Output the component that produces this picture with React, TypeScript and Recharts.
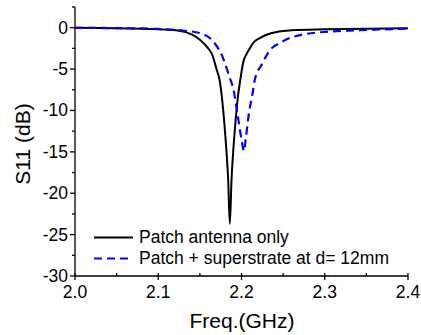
import React from 'react';
import { LineChart, Line, XAxis, YAxis } from 'recharts';

const patchFreq = [2.0, 2.05, 2.1, 2.125, 2.14, 2.15, 2.16, 2.165, 2.17, 2.174, 2.176, 2.18, 2.182, 2.184, 2.186, 2.188, 2.19, 2.192, 2.196, 2.199, 2.202, 2.206, 2.21, 2.214, 2.222, 2.23, 2.245, 2.26, 2.3, 2.35, 2.4];
const patchS11 = [-0.02, -0.06, -0.2, -0.36, -0.8, -1.45, -2.5, -3.3, -5.0, -6.5, -8.0, -12.3, -15.0, -18.4, -23.7, -18.4, -15.0, -12.3, -8.1, -6.0, -4.2, -3.2, -2.5, -1.85, -1.25, -0.85, -0.45, -0.32, -0.2, -0.12, -0.08];

const superFreq = [2.0, 2.05, 2.1, 2.13, 2.15, 2.166, 2.172, 2.178, 2.186, 2.19, 2.195, 2.2, 2.203, 2.205, 2.209, 2.213, 2.216, 2.224, 2.236, 2.246, 2.258, 2.275, 2.298, 2.33, 2.358, 2.4];
const superS11 = [-0.02, -0.05, -0.15, -0.35, -0.65, -1.65, -2.5, -3.7, -6.1, -7.3, -10.3, -13.5, -14.9, -13.5, -10.3, -8.1, -6.3, -4.5, -2.5, -1.85, -1.25, -0.8, -0.52, -0.35, -0.24, -0.12];

const xTicks = [2.0, 2.05, 2.1, 2.15, 2.2, 2.25, 2.3, 2.35, 2.4];
const yTicks = [2.5, 0, -2.5, -5, -7.5, -10, -12.5, -15, -17.5, -20, -22.5, -25, -27.5, -30];

const seriesNames = ['Patch antenna only', 'Patch + superstrate at d= 12mm'];

const patchData = patchFreq.map((f, i) => ({ f, v: patchS11[i] }));
const superData = superFreq.map((f, i) => ({ f, v: superS11[i] }));

const FONT = '"Liberation Sans", Arial, sans-serif';

const XTick = (props: any) => {
  const { x, y, payload } = props;
  const v = payload.value;
  const major = Math.round(v * 100) % 10 === 0;
  return (
    <g>
      {major ? (
        <line x1={x} x2={x} y1={y - 3} y2={y + 4} stroke="#000" strokeWidth={1.3} />
      ) : (
        <line x1={x} x2={x} y1={y} y2={y - 3} stroke="#000" strokeWidth={1.3} />
      )}
      {major && (
        <text x={x} y={y + 22} textAnchor="middle" fontSize={17.5} fontFamily={FONT} fill="#000">
          {v.toFixed(1)}
        </text>
      )}
    </g>
  );
};

const YTick = (props: any) => {
  const { x, y, payload } = props;
  const v = payload.value;
  const major = v % 5 === 0;
  return (
    <g>
      <line x1={x - (major ? 5 : 3)} x2={x} y1={y} y2={y} stroke="#000" strokeWidth={1.3} />
      {major && (
        <text x={x - 7} y={y + 6} textAnchor="end" fontSize={17.5} fontFamily={FONT} fill="#000">
          {v}
        </text>
      )}
    </g>
  );
};

const LegendBox = () => (
  <div style={{ position: 'absolute', left: 93, top: 227, fontFamily: FONT, fontSize: 17.5, color: '#000', lineHeight: '21px', pointerEvents: 'none' }}>
    <div style={{ display: 'flex', alignItems: 'center', height: 21, whiteSpace: 'nowrap' }}>
      <svg width={46} height={21}>
        <line x1={1} x2={40} y1={10.5} y2={10.5} stroke="#000" strokeWidth={2} />
      </svg>
      <span>{seriesNames[0]}</span>
    </div>
    <div style={{ display: 'flex', alignItems: 'center', height: 21, whiteSpace: 'nowrap' }}>
      <svg width={46} height={21}>
        <line x1={1} x2={40} y1={10.5} y2={10.5} stroke="#0000ff" strokeWidth={2.2} strokeDasharray="8 5" />
      </svg>
      <span>{seriesNames[1]}</span>
    </div>
  </div>
);

export default function App() {
  return (
    <div style={{ position: 'absolute', left: 0, top: 0, width: 421, height: 335, background: '#fff' }}>
      <LineChart width={421} height={335} margin={{ top: 7, right: 13, left: 0, bottom: 0 }}>
        <XAxis
          dataKey="f"
          type="number"
          domain={[2.0, 2.4]}
          ticks={xTicks}
          interval={0}
          tickSize={0}
          tickMargin={0}
          tickLine={false}
          tick={<XTick />}
          axisLine={{ stroke: '#000', strokeWidth: 1.3 }}
          height={59}
          allowDataOverflow
          label={{
            content: () => (
              <text x={242} y={328} textAnchor="middle" fontSize={21} fontFamily={FONT} fill="#000">
                Freq.(GHz)
              </text>
            ),
          }}
        />
        <XAxis xAxisId="top" orientation="top" type="number" domain={[2.0, 2.4]} height={0} tick={false} tickLine={false} axisLine={{ stroke: '#000', strokeWidth: 1.3 }} />
        <YAxis
          type="number"
          domain={[-30, 2.5]}
          ticks={yTicks}
          interval={0}
          tickSize={0}
          tickMargin={0}
          tickLine={false}
          tick={<YTick />}
          axisLine={{ stroke: '#000', strokeWidth: 1.3 }}
          width={75}
          allowDataOverflow
          label={{
            content: () => (
              <text x={30} y={144} transform="rotate(-90 30 144)" textAnchor="middle" fontSize={21} fontFamily={FONT} fill="#000">
                S11 (dB)
              </text>
            ),
          }}
        />
        <YAxis yAxisId="right" orientation="right" type="number" domain={[-30, 2.5]} width={0} tick={false} tickLine={false} axisLine={{ stroke: '#000', strokeWidth: 1.3 }} />
        <Line
          data={patchData}
          dataKey="v"
          name={seriesNames[0]}
          type="monotone"
          stroke="#000"
          strokeWidth={2}
          dot={false}
          isAnimationActive={false}
        />
        <Line
          data={superData}
          dataKey="v"
          name={seriesNames[1]}
          type="monotone"
          stroke="#0000ff"
          strokeWidth={2.2}
          strokeDasharray="8 5"
          dot={false}
          isAnimationActive={false}
        />
      </LineChart>
      <LegendBox />
    </div>
  );
}
